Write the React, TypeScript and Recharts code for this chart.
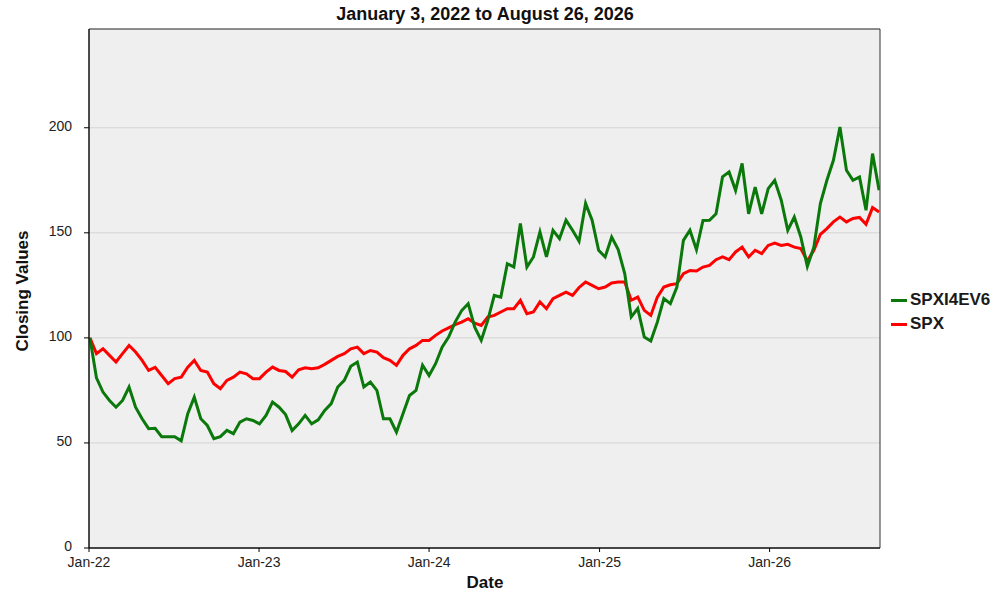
import { LineChart, Line, XAxis, YAxis, CartesianGrid, Legend, ReferenceArea } from "recharts";

const FONT = '"Liberation Sans", Arial, Helvetica, sans-serif';
const DAY = 86400000;
// one reading every two weeks, starting on the first trading day
const START = Date.UTC(2022, 0, 3);
const STEP_DAYS = 14;

const SPXI4EV6 = [
  100, 81, 74.2, 70.2, 67, 70.2, 76.6, 67, 61.5, 56.8,
  57, 53, 53, 53, 51, 63.9, 71.8, 61.5, 58.3, 52,
  53, 56, 54.4, 59.9, 61.5, 60.7, 59.1, 63.1, 69.4, 67,
  63.5, 55.9, 59.1, 63.1, 59.1, 61, 65.5, 68.7, 76.6, 79.8,
  86.5, 88.5, 76.6, 79, 75, 61.5, 61.5, 55.1, 63.9, 72.6,
  75, 87, 82.1, 87.7, 95.6, 100.4, 107.5, 113, 116.3, 105.1,
  98.8, 108.3, 120.2, 119.4, 135.3, 133.7, 154.4, 133.7, 138.5, 150.4,
  138.5, 151.2, 147.2, 156, 151.2, 146, 164, 156, 141.7, 138.5,
  148, 142, 130.6, 110, 114, 100.4, 98.5, 107.5, 118.7, 116.3,
  124.2, 146.4, 151.2, 142, 155.9, 156, 159.1, 176.6, 179, 170.2,
  183, 159, 171.8, 159, 171, 175, 165.5, 151.2, 157.5, 148,
  134, 143.2, 163.9, 175, 184.5, 200.4, 179.8, 175, 176.6, 160.7,
  187.7, 170.3,
];

const SPX = [
  100, 92.5, 94.8, 91.7, 88.5, 92.5, 96.4, 93.3, 89.3, 84.5,
  86, 82.1, 78.2, 80.6, 81.3, 86.1, 89.3, 84.5, 83.7, 78.2,
  75.8, 79.8, 81.3, 83.7, 82.9, 80.6, 80.6, 83.7, 86.1, 84.5,
  84, 81.3, 84.8, 85.8, 85.3, 85.8, 87.4, 89.3, 91.2, 92.5,
  94.8, 95.6, 92.5, 94, 93.2, 90.6, 89.3, 86.9, 91.7, 94.8,
  96.4, 98.8, 98.8, 101.2, 103.3, 104.8, 106.3, 107.5, 109.1, 107,
  105.9, 109.9, 110.7, 112.3, 113.9, 113.9, 117.9, 111.5, 112.3, 117.1,
  113.9, 118.7, 120.2, 121.8, 120.2, 124, 126.6, 125, 123.4, 124.2,
  126.1, 126.6, 126.6, 117.9, 119.4, 113.1, 110.7, 119.4, 124.2, 125.3,
  125.8, 130.6, 132.1, 131.8, 133.7, 134.5, 137.2, 138.5, 137.2, 140.9,
  143.2, 138.5, 141.7, 140.1, 144, 145.1, 144, 144.5, 143.2, 142.5,
  136.6, 141.7, 149.3, 152, 155.2, 157.5, 155.2, 156.8, 157.3, 154.1,
  162, 159.9,
];

const X_TICKS = [2022, 2023, 2024, 2025, 2026].map((y) => Date.UTC(y, 0, 1));
const X_END = Date.UTC(2026, 7, 26);
const Y_TICKS = [0, 50, 100, 150, 200];
const Y_MAX = 247;
const MONTHS = ["Jan", "Feb", "Mar", "Apr", "May", "Jun", "Jul", "Aug", "Sep", "Oct", "Nov", "Dec"];

const SERIES = [
  { key: "spxi", name: "SPXI4EV6", color: "#0a780a" },
  { key: "spx", name: "SPX", color: "#ff0000" },
];

const data = SPX.map((v, i) => ({
  t: START + i * STEP_DAYS * DAY,
  spx: v,
  spxi: SPXI4EV6[i],
}));

const fmtDate = (t: number) => {
  const d = new Date(t);
  return `${MONTHS[d.getUTCMonth()]}-${String(d.getUTCFullYear()).slice(2)}`;
};

const renderLegend = () => (
  <div style={{ fontFamily: FONT, fontWeight: "bold", fontSize: 17, color: "#1a1a1a" }}>
    {SERIES.map((s) => (
      <div key={s.key} style={{ display: "flex", alignItems: "center", height: 24 }}>
        <span style={{ display: "inline-block", width: 16, height: 3, background: s.color, marginRight: 3 }} />
        {s.name}
      </div>
    ))}
  </div>
);

const tickStyle = { fontFamily: FONT, fontSize: 14, fill: "#222" };

// y tick labels sit a little above centre, like the original
const YTick = (props: any) => (
  <text x={props.x} y={props.y + 3} textAnchor="end" fontFamily={FONT} fontSize={14} fill="#222">
    {props.payload.value}
  </text>
);

export default function App() {
  return (
    <div style={{ position: "absolute", left: 0, top: 0, width: 1000, height: 600, background: "#fff" }}>
      <div
        style={{
          position: "absolute",
          left: 0,
          top: 3,
          width: 970,
          textAlign: "center",
          fontFamily: FONT,
          fontWeight: "bold",
          fontSize: 18,
          lineHeight: "22px",
          color: "#111",
        }}
      >
        January 3, 2022 to August 26, 2026
      </div>
      <LineChart width={1000} height={600} data={data} margin={{ top: 29, right: 120, bottom: 0, left: 0 }}>
        <CartesianGrid vertical={false} stroke="#d4d4d4" fill="#efefef" />
        <XAxis
          dataKey="t"
          type="number"
          domain={[X_TICKS[0], X_END]}
          ticks={X_TICKS}
          tickFormatter={fmtDate}
          allowDataOverflow
          height={52}
          tickSize={4}
          tickMargin={5}
          tick={tickStyle}
          stroke="#000"
          label={() => (
            <text x={485} y={588} textAnchor="middle" fontFamily={FONT} fontWeight="bold" fontSize={17} fill="#111">
              Date
            </text>
          )}
        />
        <YAxis
          domain={[0, Y_MAX]}
          ticks={Y_TICKS}
          width={89}
          tickSize={5}
          tickMargin={12}
          tick={YTick}
          stroke="#000"
          label={() => (
            <text
              x={28}
              y={291}
              transform="rotate(-90 28 291)"
              textAnchor="middle"
              fontFamily={FONT}
              fontWeight="bold"
              fontSize={17}
              fill="#111"
            >
              Closing Values
            </text>
          )}
        />
        <ReferenceArea
          x1={X_TICKS[0]}
          x2={X_END}
          y1={0}
          y2={Y_MAX}
          fill="none"
          stroke="#333"
          strokeWidth={1}
          ifOverflow="visible"
        />
        <Legend
          layout="vertical"
          align="center"
          verticalAlign="middle"
          content={renderLegend}
          wrapperStyle={{ left: 891, top: 288, width: "auto" }}
        />
        <Line dataKey="spx" name="SPX" stroke="#ff0000" strokeWidth={3} dot={false} type="linear" isAnimationActive={false} />
        <Line dataKey="spxi" name="SPXI4EV6" stroke="#0a780a" strokeWidth={3} dot={false} type="linear" isAnimationActive={false} />
      </LineChart>
    </div>
  );
}
